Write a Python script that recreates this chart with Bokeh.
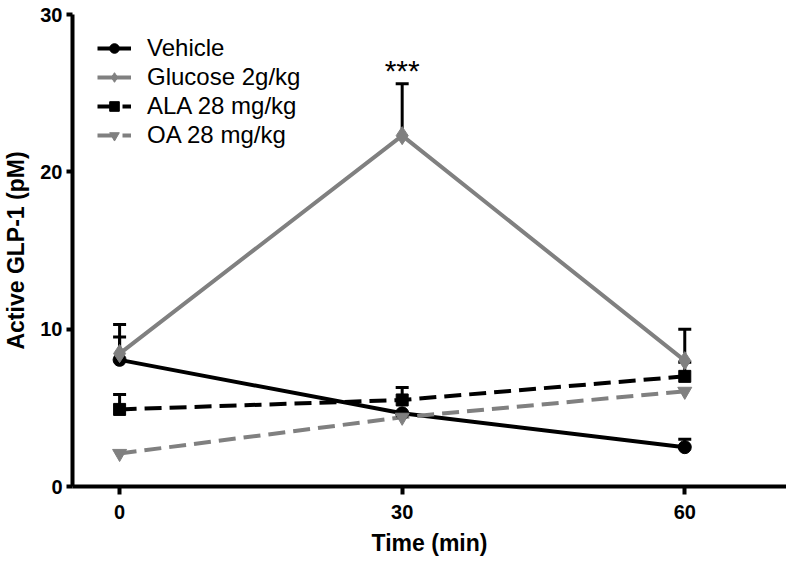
from bokeh.plotting import figure
from bokeh.models import Range1d, FixedTicker, Legend, LegendItem, Label
from bokeh.embed import file_html
from bokeh.resources import INLINE

times = [0, 30, 60]
vehicle = [8.05, 4.65, 2.5]
vehicle_err = [1.45, 0.0, 0.5]
glucose = [8.45, 22.3, 8.0]
glucose_err = [1.85, 3.3, 2.0]
ala = [4.9, 5.5, 7.0]
ala_err = [0.95, 0.8, 0.9]
oa = [2.1, 4.4, 6.05]
oa_err = [0.0, 0.0, 0.0]
series_names = ["Vehicle", "Glucose 2g/kg", "ALA 28 mg/kg", "OA 28 mg/kg"]
y_ticks = [0, 10, 20, 30]
x_ticks = [0, 30, 60]

BLACK = "#000000"
GRAY = "#808080"

p = figure(width=786, height=564, output_backend="svg", toolbar_location=None,
           x_range=Range1d(-5, 70.8), y_range=Range1d(0, 30),
           min_border_left=72, min_border_right=0, min_border_top=14, min_border_bottom=78)
p.outline_line_color = None
p.grid.visible = False
p.background_fill_color = "white"

for ax in (p.xaxis[0], p.yaxis[0]):
    ax.axis_line_width = 4
    ax.axis_line_color = BLACK
    ax.major_tick_line_width = 4
    ax.major_tick_line_color = BLACK
    ax.minor_tick_line_color = None
    ax.major_tick_in = 0
    ax.major_label_text_font = "Liberation Sans"
    ax.major_label_text_font_style = "bold"
    ax.major_label_text_font_size = "20px"
    ax.major_label_text_color = BLACK
    ax.axis_label_text_font = "Liberation Sans"
    ax.axis_label_text_font_style = "bold"
    ax.axis_label_text_font_size = "23px"
    ax.axis_label_text_color = BLACK

p.xaxis[0].ticker = FixedTicker(ticks=x_ticks)
p.yaxis[0].ticker = FixedTicker(ticks=y_ticks)
p.xaxis[0].major_tick_out = 8
p.yaxis[0].major_tick_out = 6
p.xaxis[0].major_label_standoff = 10
p.yaxis[0].major_label_standoff = 4
p.xaxis[0].axis_label = "Time (min)"
p.yaxis[0].axis_label = "Active GLP-1 (pM)"
p.xaxis[0].axis_label_standoff = 8
p.yaxis[0].axis_label_standoff = 8

data = [
    (vehicle, vehicle_err, BLACK, "solid", "circle", 13),
    (glucose, glucose_err, GRAY, "solid", "diamond", 18),
    (ala, ala_err, BLACK, "dashed", "square", 12),
    (oa, oa_err, GRAY, "dashed", "inverted_triangle", 14),
]

items = []
renderers = []
for (vals, errs, col, dash, marker, size), name in zip(data, series_names):
    ld = "solid" if dash == "solid" else "17 8"
    l = p.line(times, vals, line_color=col, line_width=4, line_dash=ld)
    renderers.append((l, vals, errs, col, marker, size, name))

for l, vals, errs, col, marker, size, name in renderers:
    tops = [v + e for v, e in zip(vals, errs)]
    has = [e > 0 for e in errs]
    xs = [t for t, h in zip(times, has) if h]
    y0 = [v for v, h in zip(vals, has) if h]
    y1 = [t for t, h in zip(tops, has) if h]
    p.segment(xs, y0, xs, y1, line_color=BLACK, line_width=3)
    p.scatter(xs, y1, marker="dash", size=13, line_color=BLACK, line_width=3)

for l, vals, errs, col, marker, size, name in renderers:
    s = p.scatter(times, vals, marker=marker, size=size, fill_color=col, line_color=col)
    items.append(LegendItem(label=name, renderers=[l, s]))

legend = Legend(items=items, location=(25, 337))
legend.border_line_color = None
legend.background_fill_alpha = 0
legend.label_text_font = "Liberation Sans"
legend.label_text_font_size = "24px"
legend.label_text_color = BLACK
legend.glyph_width = 34
legend.glyph_height = 24
legend.label_height = 24
legend.spacing = 1
legend.padding = 0
legend.margin = 0
legend.label_standoff = 16
p.add_layout(legend)

star = Label(x=times[1], y=glucose[1] + glucose_err[1], text="***", text_align="center",
             text_baseline="alphabetic", text_font="Liberation Sans", text_font_size="30px",
             text_color=BLACK, y_offset=13)
p.add_layout(star)

open("out.html", "w").write(file_html(p, INLINE))
